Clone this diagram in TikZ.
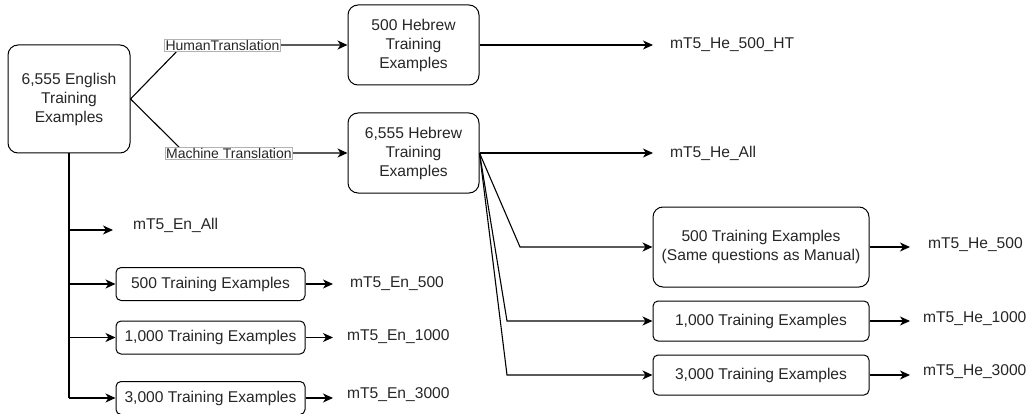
\documentclass[tikz,border=0pt]{standalone}
\usepackage{fontspec}
\setmainfont{Liberation Sans}
\usetikzlibrary{arrows.meta}
\newcommand{\mainsz}{\fontsize{15.6}{19}\selectfont}
\newcommand{\lblsz}{\fontsize{14}{15}\selectfont}
\tikzset{
  box/.style={draw, line width=1pt, rounded corners=10pt, align=center, inner sep=0pt, font=\mainsz, text=black!85},
  sbox/.style={draw, line width=1pt, rounded corners=5pt, align=center, inner sep=0pt, font=\mainsz, text=black!85},
  outtxt/.style={anchor=west, inner sep=0pt, font=\mainsz, text=black!85},
  lbl/.style={draw=black!30, line width=0.6pt, fill=white, inner sep=1pt, font=\lblsz, text=black!85},
  conn/.style={line width=1.1pt},
  arr/.style={line width=1.1pt, -{Stealth[length=10pt,width=9pt,inset=3pt]}},
}
\begin{document}
\begin{tikzpicture}[x=1pt,y=-1pt]
\useasboundingbox (0,0) rectangle (1035,414);
% main boxes
\node[box, minimum width=122pt, minimum height=108pt] (en) at (69,99) {6,555 English\\Training\\Examples};
\node[box, minimum width=131pt, minimum height=80pt] (h500) at (413.5,45) {500 Hebrew\\Training\\Examples};
\node[box, minimum width=131pt, minimum height=80pt] (hall) at (413.5,153) {6,555 Hebrew\\Training\\Examples};
% right boxes
\node[box, minimum width=216pt, minimum height=80pt] (r500) at (761,247) {500 Training Examples\\(Same questions as Manual)};
\node[sbox, minimum width=216pt, minimum height=40pt] (r1000) at (761,321) {1,000 Training Examples};
\node[sbox, minimum width=216pt, minimum height=40pt] (r3000) at (761,375) {3,000 Training Examples};
% left boxes
\node[sbox, minimum width=189pt, minimum height=33pt] (l500) at (210.5,284) {500 Training Examples};
\node[sbox, minimum width=189pt, minimum height=33pt] (l1000) at (210.5,337.5) {1,000 Training Examples};
\node[sbox, minimum width=189pt, minimum height=33pt] (l3000) at (210.5,398) {3,000 Training Examples};
% output texts
\node[outtxt] (o500ht) at (670,45) {mT5\_He\_500\_HT};
\node[outtxt] (ohall) at (670,153) {mT5\_He\_All};
\node[outtxt] (ohe500) at (928,245) {mT5\_He\_500};
\node[outtxt] (ohe1000) at (923,319) {mT5\_He\_1000};
\node[outtxt] (ohe3000) at (923,372) {mT5\_He\_3000};
\node[outtxt] (oenall) at (133,225) {mT5\_En\_All};
\node[outtxt] (oen500) at (350,284) {mT5\_En\_500};
\node[outtxt] (oen1000) at (347,337) {mT5\_En\_1000};
\node[outtxt] (oen3000) at (347,395) {mT5\_En\_3000};
% waypoints
\coordinate (hwp) at (183,45);
\coordinate (mwp) at (185,153);
\coordinate (w500) at (520,247);
\coordinate (w1000) at (507,321);
\coordinate (w3000) at (507,375);
\coordinate (b1) at (69,230);
\coordinate (b2) at (69,284);
\coordinate (b3) at (69,337.5);
\coordinate (b4) at (69,398);
\coordinate (eall) at (113,230);
% translation edges
\draw[arr] (en.east) -- (hwp) -- node[lbl, pos=0.24] {HumanTranslation} (h500.west);
\draw[arr] (en.east) -- (mwp) -- node[lbl, pos=0.27] {Machine Translation} (hall.west);
% hebrew outputs
\draw[arr, shorten >=17pt] (h500.east) -- (o500ht.west);
\draw[arr, shorten >=17pt] (hall.east) -- (ohall.west);
\draw[arr] (hall.east) -- (w500) -- (r500.west);
\draw[arr] (hall.east) -- (w1000) -- (r1000.west);
\draw[arr] (hall.east) -- (w3000) -- (r3000.west);
\draw[arr, shorten >=18pt] (r500.east) -- (r500.east -| ohe500.west);
\draw[arr, shorten >=13pt] (r1000.east) -- (r1000.east -| ohe1000.west);
\draw[arr, shorten >=13pt] (r3000.east) -- (r3000.east -| ohe3000.west);
% english branch
\draw[conn] (en.south) -- (b4);
\draw[arr] (b1) -- (eall);
\draw[arr] (b2) -- (l500.west);
\draw[arr] (b3) -- (l1000.west);
\draw[arr] (b4) -- (l3000.west);
\draw[arr, shorten >=17pt] (l500.east) -- (oen500.west);
\draw[arr, shorten >=14pt] (l1000.east) -- (l1000.east -| oen1000.west);
\draw[arr, shorten >=14pt] (l3000.east) -- (l3000.east -| oen3000.west);
\end{tikzpicture}
\end{document}
